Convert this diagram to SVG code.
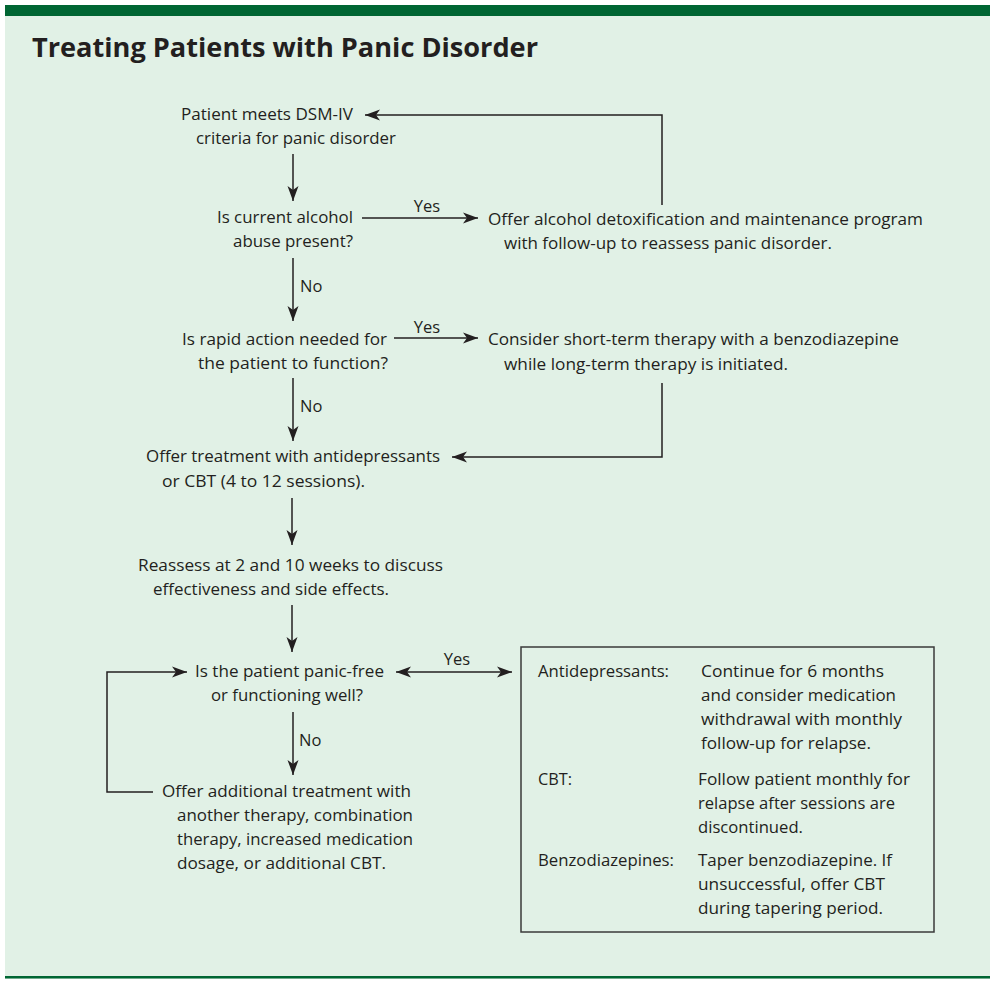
<svg xmlns="http://www.w3.org/2000/svg" width="990" height="981" viewBox="0 0 990 981">
<style>
text{font-family:"Open Sans","Noto Sans","Liberation Sans",sans-serif;font-size:16.5px;fill:#231f20;}
.title{font-size:27px;font-weight:bold;}
.ln{fill:none;stroke:#231f20;stroke-width:1.5;}
.box{fill:none;stroke:#3a3a3a;stroke-width:1.5;}
</style>
<defs>
<marker id="ah" markerUnits="userSpaceOnUse" markerWidth="16" markerHeight="12" viewBox="-15 -6 16 12" refX="0" refY="0" orient="auto-start-reverse">
<path d="M0,0 L-15,-5.5 L-11,0 L-15,5.5 Z" fill="#231f20"/>
</marker>
</defs>
<rect x="0" y="0" width="990" height="981" fill="#ffffff"/>
<rect x="5" y="5" width="985" height="974" fill="#e1f1e6"/>
<rect x="5" y="5" width="985" height="11" fill="#006633"/>
<rect x="5" y="976" width="985" height="2.5" fill="#006633"/>
<text class="title" x="32" y="57" textLength="506" lengthAdjust="spacingAndGlyphs">Treating Patients with Panic Disorder</text>

<g id="connectors">
<path class="ln" d="M293,154 V201" marker-end="url(#ah)"/>
<path class="ln" d="M362,218 H478" marker-end="url(#ah)"/>
<path class="ln" d="M662,205 V115 H365" marker-end="url(#ah)"/>
<path class="ln" d="M293,258 V321" marker-end="url(#ah)"/>
<path class="ln" d="M394,338 H478" marker-end="url(#ah)"/>
<path class="ln" d="M662,383 V457 H452" marker-end="url(#ah)"/>
<path class="ln" d="M293,378 V441" marker-end="url(#ah)"/>
<path class="ln" d="M292,498 V545" marker-end="url(#ah)"/>
<path class="ln" d="M292,605 V652" marker-end="url(#ah)"/>
<path class="ln" d="M396,672 H512" marker-start="url(#ah)" marker-end="url(#ah)"/>
<path class="ln" d="M293,712 V775" marker-end="url(#ah)"/>
<path class="ln" d="M153,792 H107 V672 H187" marker-end="url(#ah)"/>
<text x="427" y="212" text-anchor="middle">Yes</text>
<text x="427" y="333" text-anchor="middle">Yes</text>
<text x="457" y="665" text-anchor="middle">Yes</text>
<text x="300" y="292">No</text>
<text x="300" y="412">No</text>
<text x="299" y="746">No</text>
</g>

<g id="n-criteria">
<text x="181" y="120" textLength="172" lengthAdjust="spacingAndGlyphs">Patient meets DSM-IV</text>
<text x="196" y="144" textLength="200" lengthAdjust="spacingAndGlyphs">criteria for panic disorder</text>
</g>
<g id="n-alcohol">
<text x="217" y="223" textLength="136" lengthAdjust="spacingAndGlyphs">Is current alcohol</text>
<text x="233" y="247" textLength="120" lengthAdjust="spacingAndGlyphs">abuse present?</text>
</g>
<g id="n-detox">
<text x="488" y="225" textLength="435" lengthAdjust="spacingAndGlyphs">Offer alcohol detoxification and maintenance program</text>
<text x="504" y="249" textLength="328" lengthAdjust="spacingAndGlyphs">with follow-up to reassess panic disorder.</text>
</g>
<g id="n-rapid">
<text x="182" y="345" textLength="205" lengthAdjust="spacingAndGlyphs">Is rapid action needed for</text>
<text x="198" y="369" textLength="190" lengthAdjust="spacingAndGlyphs">the patient to function?</text>
</g>
<g id="n-benzo">
<text x="488" y="345" textLength="411" lengthAdjust="spacingAndGlyphs">Consider short-term therapy with a benzodiazepine</text>
<text x="504" y="370" textLength="284" lengthAdjust="spacingAndGlyphs">while long-term therapy is initiated.</text>
</g>
<g id="n-offer">
<text x="146" y="462" textLength="294" lengthAdjust="spacingAndGlyphs">Offer treatment with antidepressants</text>
<text x="162" y="487" textLength="203" lengthAdjust="spacingAndGlyphs">or CBT (4 to 12 sessions).</text>
</g>
<g id="n-reassess">
<text x="138" y="571" textLength="305" lengthAdjust="spacingAndGlyphs">Reassess at 2 and 10 weeks to discuss</text>
<text x="153" y="595" textLength="236" lengthAdjust="spacingAndGlyphs">effectiveness and side effects.</text>
</g>
<g id="n-panicfree">
<text x="195" y="677" textLength="189" lengthAdjust="spacingAndGlyphs">Is the patient panic-free</text>
<text x="211" y="701" textLength="152" lengthAdjust="spacingAndGlyphs">or functioning well?</text>
</g>
<g id="n-additional">
<text x="162" y="797" textLength="249" lengthAdjust="spacingAndGlyphs">Offer additional treatment with</text>
<text x="177" y="821" textLength="236" lengthAdjust="spacingAndGlyphs">another therapy, combination</text>
<text x="177" y="845" textLength="236" lengthAdjust="spacingAndGlyphs">therapy, increased medication</text>
<text x="177" y="869" textLength="209" lengthAdjust="spacingAndGlyphs">dosage, or additional CBT.</text>
</g>
<g id="n-followup">
<rect class="box" x="521" y="647" width="413" height="285"/>
<text x="538" y="677" textLength="131" lengthAdjust="spacingAndGlyphs">Antidepressants:</text>
<text x="701" y="677" textLength="183" lengthAdjust="spacingAndGlyphs">Continue for 6 months</text>
<text x="701" y="701" textLength="195" lengthAdjust="spacingAndGlyphs">and consider medication</text>
<text x="701" y="725" textLength="201" lengthAdjust="spacingAndGlyphs">withdrawal with monthly</text>
<text x="701" y="749" textLength="170" lengthAdjust="spacingAndGlyphs">follow-up for relapse.</text>
<text x="538" y="785" textLength="34" lengthAdjust="spacingAndGlyphs">CBT:</text>
<text x="698" y="785" textLength="212" lengthAdjust="spacingAndGlyphs">Follow patient monthly for</text>
<text x="698" y="809" textLength="197" lengthAdjust="spacingAndGlyphs">relapse after sessions are</text>
<text x="698" y="833" textLength="105" lengthAdjust="spacingAndGlyphs">discontinued.</text>
<text x="538" y="866" textLength="136" lengthAdjust="spacingAndGlyphs">Benzodiazepines:</text>
<text x="698" y="866" textLength="194" lengthAdjust="spacingAndGlyphs">Taper benzodiazepine. If</text>
<text x="698" y="890" textLength="187" lengthAdjust="spacingAndGlyphs">unsuccessful, offer CBT</text>
<text x="698" y="914" textLength="185" lengthAdjust="spacingAndGlyphs">during tapering period.</text>
</g>
</svg>
